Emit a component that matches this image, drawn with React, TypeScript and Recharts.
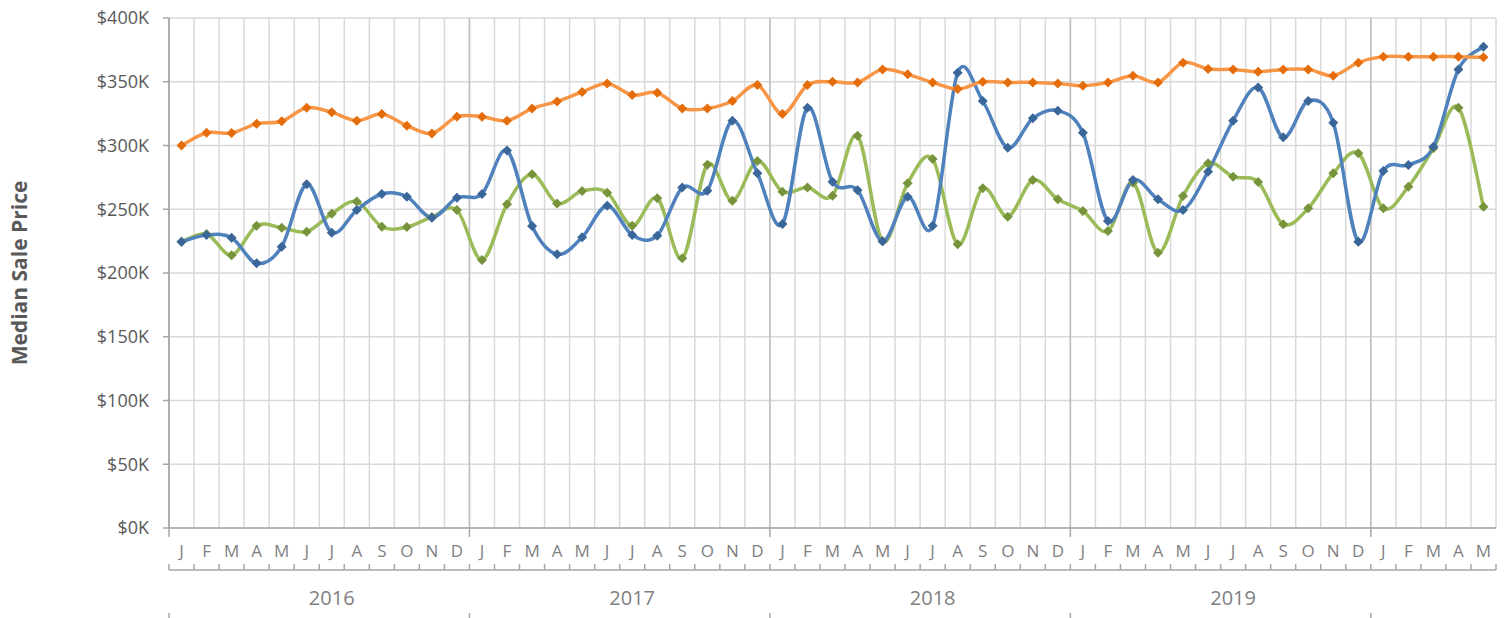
import React from "react";
import { LineChart, Line, XAxis, YAxis, CartesianGrid } from "recharts";

// month letters, Jan 2016 .. May 2020
const monthLabels = [
  "J", "F", "M", "A", "M", "J", "J", "A", "S", "O", "N", "D",
  "J", "F", "M", "A", "M", "J", "J", "A", "S", "O", "N", "D",
  "J", "F", "M", "A", "M", "J", "J", "A", "S", "O", "N", "D",
  "J", "F", "M", "A", "M", "J", "J", "A", "S", "O", "N", "D",
  "J", "F", "M", "A", "M",
];
const yearLabels = ["2016", "2017", "2018", "2019", "2020"];

// values in $K
const blueSeries = [
  224.5, 229.8, 227.7, 207.6, 220.6, 269.6, 231.6, 249.4, 262, 259.8, 243.4, 259,
  262, 296, 236.9, 214.7, 228, 252.8, 229.8, 229.3, 267, 264.6, 319.5, 278.2,
  238.4, 329.7, 271.6, 265, 225, 259.8, 237, 357, 335, 298.3, 321.3, 327.3,
  310, 240.8, 272.9, 257.8, 249.4, 279.5, 319.5, 345.5, 306.4, 334.9, 317.9, 224.5,
  280, 284.7, 299, 359.7, 377.5,
];
const greenSeries = [
  224.5, 230.6, 214, 237, 235.5, 232.4, 246.5, 256, 236.3, 236, 244, 249.4,
  210.2, 254, 277.4, 254.6, 264.3, 263, 237, 258.6, 211.5, 285, 256.7, 287.8,
  263.8, 267, 260.6, 307.7, 225, 270.3, 289.4, 222.5, 266.4, 244.2, 272.9, 257.8,
  248.6, 232.9, 270.8, 215.9, 260.4, 286, 275.5, 271.3, 238.2, 250.7, 278.2, 293.9,
  250.7, 267.7, 297.8, 329.7, 252,
];
const orangeSeries = [
  300, 310, 309.8, 317, 319, 329.6, 326, 319.5, 324.7, 315.5, 309.5, 322.6,
  322.6, 319.5, 329, 334.6, 342, 348.7, 339.6, 341.4, 329, 329, 334.9, 347.4,
  324.7, 347.4, 350, 349.5, 359.7, 355.8, 349.5, 344.3, 350, 349.5, 349.5, 348.7,
  346.9, 349.5, 354.8, 349.5, 365, 360, 359.7, 357.9, 359.7, 359.7, 354.8, 365,
  369.7, 369.7, 369.7, 369.7, 369.2,
];
const yTicks = [0, 50, 100, 150, 200, 250, 300, 350, 400];

const data = monthLabels.map((m, i) => ({
  m,
  blue: blueSeries[i],
  green: greenSeries[i],
  orange: orangeSeries[i],
}));

// the svg is pulled over the body margin so it starts at the page corner
const W = 1512;
const H = 618;
const Y_AXIS_W = 169;
const M_RIGHT = 16;
const PLOT_W = W - Y_AXIS_W - M_RIGHT;
const N = monthLabels.length;
const BAND = PLOT_W / N;

const GRID = "#d9d9d9";
const AXIS = "#a6a6a6";
const FONT = "'Open Sans', 'Noto Sans', sans-serif";

// Excel-style smoothing (Catmull-Rom through the points)
function excelCurve(context: any) {
  let pts: number[][] = [];
  return {
    areaStart() {},
    areaEnd() {},
    lineStart() { pts = []; },
    point(x: number, y: number) { pts.push([+x, +y]); },
    lineEnd() {
      const n = pts.length;
      if (!n) return;
      context.moveTo(pts[0][0], pts[0][1]);
      for (let i = 0; i < n - 1; i++) {
        const p0 = pts[Math.max(i - 1, 0)];
        const p1 = pts[i];
        const p2 = pts[i + 1];
        const p3 = pts[Math.min(i + 2, n - 1)];
        context.bezierCurveTo(
          p1[0] + (p2[0] - p0[0]) / 6, p1[1] + (p2[1] - p0[1]) / 6,
          p2[0] - (p3[0] - p1[0]) / 6, p2[1] - (p3[1] - p1[1]) / 6,
          p2[0], p2[1],
        );
      }
    },
  };
}

function diamond(fill: string) {
  return (p: any) => {
    const { cx, cy, index } = p;
    if (cx == null || cy == null) return <g key={`d-${index}`} />;
    const r = 5;
    return (
      <path
        key={`d-${index}`}
        d={`M${cx},${cy - r}L${cx + r},${cy}L${cx},${cy + r}L${cx - r},${cy}Z`}
        fill={fill}
      />
    );
  };
}

function MonthTick(props: any) {
  const { x, y, payload, index } = props;
  const left = x - BAND / 2;
  const right = x + BAND / 2;
  const inYear = index % 12;
  const last = index === N - 1;
  return (
    <g>
      {inYear === 0 && <line x1={left} x2={left} y1={y} y2={y + 9} stroke={AXIS} strokeWidth={1.5} />}
      <text x={x} y={y + 29} textAnchor="middle" fontSize={17} fill="#7f7f7f" fontFamily={FONT}>
        {payload.value}
      </text>
      <line x1={left} x2={right} y1={y + 42} y2={y + 42} stroke={AXIS} strokeWidth={1.5} />
      <line x1={left} x2={left} y1={y + 36} y2={y + 42} stroke={AXIS} strokeWidth={1.5} />
      {last && <line x1={right} x2={right} y1={y + 36} y2={y + 42} stroke={AXIS} strokeWidth={1.5} />}
      {inYear === 6 && (
        <text x={x} y={y + 77} textAnchor="middle" fontSize={20} fill="#7f7f7f" fontFamily={FONT}>
          {yearLabels[Math.floor(index / 12)]}
        </text>
      )}
      {inYear === 0 && <line x1={left} x2={left} y1={y + 85} y2={y + 90} stroke={AXIS} strokeWidth={1.5} />}
    </g>
  );
}

const monthBounds = ({ offset }: any) =>
  Array.from({ length: N + 1 }, (_, i) => offset.left + (offset.width * i) / N);
const yearBounds = ({ offset }: any) =>
  [0, 12, 24, 36, 48].map((i) => offset.left + (offset.width * i) / N);

function YTitle(p: any) {
  const vb = p.viewBox;
  const cx = 19;
  const cy = vb.y + vb.height / 2;
  return (
    <text
      x={cx} y={cy} transform={`rotate(-90 ${cx} ${cy})`}
      textAnchor="middle" dominantBaseline="central"
      fontSize={21} fontWeight={700} fill="#595959" fontFamily={FONT}
    >
      Median Sale Price
    </text>
  );
}

export default function App() {
  return (
    <div style={{ fontFamily: FONT, width: W, height: H, margin: "-8px 0 0 -8px" }}>
      <LineChart width={W} height={H} data={data} margin={{ top: 18, right: M_RIGHT, left: 0, bottom: 0 }}>
        <CartesianGrid stroke={GRID} strokeWidth={1.5} vertical={false} />
        <CartesianGrid stroke={GRID} strokeWidth={1.5} horizontal={false} verticalCoordinatesGenerator={monthBounds} />
        <CartesianGrid stroke="#bfbfbf" strokeWidth={1.5} horizontal={false} verticalCoordinatesGenerator={yearBounds} />
        <XAxis
          dataKey="m" interval={0} height={90}
          padding={{ left: BAND / 2, right: BAND / 2 }}
          tickLine={false} tickSize={0} tickMargin={0}
          axisLine={{ stroke: AXIS, strokeWidth: 1.5 }}
          tick={<MonthTick />}
        />
        <YAxis
          width={Y_AXIS_W} domain={[0, 400]} ticks={yTicks} interval={0}
          tickFormatter={(v: number) => `$${v}K`}
          tick={{ fontSize: 18, fill: "#595959", fontFamily: FONT }}
          tickSize={6} tickMargin={14}
          tickLine={{ stroke: AXIS, strokeWidth: 1.5 }}
          axisLine={{ stroke: AXIS, strokeWidth: 1.5 }}
          label={{ value: "Median Sale Price", content: YTitle }}
        />
        <Line
          dataKey="green" type={excelCurve as any} stroke="#9bbb59" strokeWidth={3.5}
          dot={diamond("#77933c")} activeDot={false} isAnimationActive={false}
        />
        <Line
          dataKey="blue" type={excelCurve as any} stroke="#4f81bd" strokeWidth={3.5}
          dot={diamond("#3a6699")} activeDot={false} isAnimationActive={false}
        />
        <Line
          dataKey="orange" type={excelCurve as any} stroke="#f79646" strokeWidth={3.5}
          dot={diamond("#e46c0a")} activeDot={false} isAnimationActive={false}
        />
      </LineChart>
    </div>
  );
}
